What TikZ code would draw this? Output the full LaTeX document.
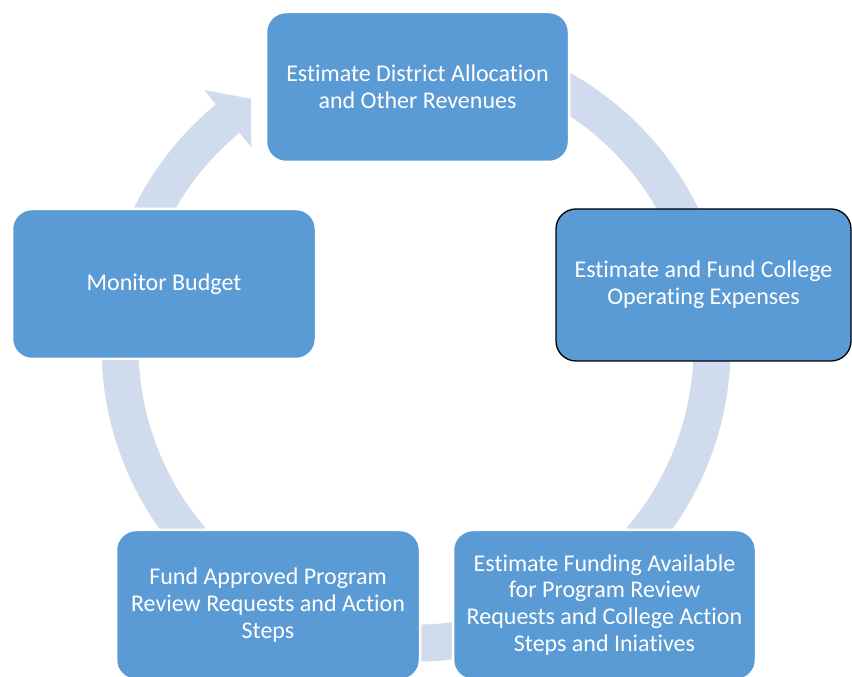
\documentclass[tikz,border=0pt]{standalone}
\usepackage{fontspec}
\setmainfont{Carlito}[Ligatures={NoCommon,NoContextual}]
\definecolor{boxblue}{RGB}{91,155,213}
\definecolor{bandcol}{RGB}{208,220,238}
\begin{document}
\begin{tikzpicture}[x=1pt,y=1pt,
  stagebox/.style={rectangle, rounded corners=20pt, fill=boxblue, draw=white, line width=2.5pt,
    text=white, align=center, inner sep=0pt,
    font=\fontsize{24}{26.8}\selectfont},
  band/.style={draw=bandcol, line width=37pt, line cap=butt}]
\useasboundingbox (0,0) rectangle (852,677);
\coordinate (c) at (416,330);
% ring of arrows
\draw[band] ([shift={(110:296pt)}]c) arc[start angle=110, end angle=-230.5, radius=296pt];
\fill[bandcol] ([shift={(129.5:259pt)}]c) -- ([shift={(129.5:333pt)}]c) -- ([shift={(123.6:298pt)}]c) -- cycle;
% stages
\node[stagebox, minimum width=303pt, minimum height=150pt] (top) at (417.5,590)
  {Estimate District Allocation\\and Other Revenues};
\node[stagebox, minimum width=304pt, minimum height=150pt] (left) at (164,393)
  {Monitor Budget};
\node[stagebox, minimum width=295pt, minimum height=152pt, draw=black, line width=1.3pt] (right) at (703.5,392)
  {Estimate and Fund College\\Operating Expenses};
\node[stagebox, minimum width=304pt, minimum height=150pt] (bl) at (268,72)
  {Fund Approved Program\\Review Requests and Action\\Steps};
\node[stagebox, minimum width=303pt, minimum height=150pt] (br) at (604.5,72)
  {Estimate Funding Available\\for Program Review\\Requests and College Action\\Steps and Iniatives};
\end{tikzpicture}
\end{document}
